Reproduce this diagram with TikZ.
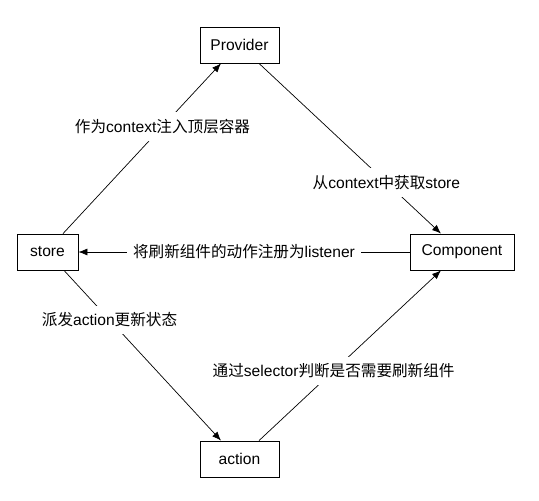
\documentclass[tikz,border=0pt]{standalone}
\usepackage{fontspec}
\setmainfont{Liberation Sans}
\newfontfamily\cjk{Noto Sans CJK SC}
\usetikzlibrary{arrows.meta}
\begin{document}
\begin{tikzpicture}[x=1pt,y=-1pt,
  every node/.style={font=\fontsize{15.6}{18}\selectfont},
  box/.style={draw,line width=0.8pt,minimum height=36pt,inner sep=0pt},
  conn/.style={line width=0.7pt},
  arr/.style={conn,-{Latex[length=9pt,width=7pt]}},
  lab/.style={fill=white,inner xsep=6pt,inner ysep=7pt}]
\useasboundingbox (0,0) rectangle (539,501);
\node[box,minimum width=79pt] (prov) at (239.5,45) {Provider};
\node[box,minimum width=61pt] (store) at (47.5,252) {store};
\node[box,minimum width=104pt] (comp) at (462,252) {Component};
\node[box,minimum width=79pt] (act) at (239.5,459) {action};
\draw[arr] ([xshift=15.5pt]store.north) -- ([xshift=-18.5pt]prov.south)
  node[lab,pos=0.63] {{\cjk 作为}context{\cjk 注入顶层容器}};
\draw[arr] ([xshift=19.5pt]prov.south) -- ([xshift=-21pt]comp.north)
  node[lab,pos=0.7] {{\cjk 从}context{\cjk 中获取}store};
\draw[arr] (comp.west) -- (store.east)
  node[lab,pos=0.5] {{\cjk 将刷新组件的动作注册为}listener};
\draw[arr] ([xshift=16.5pt]store.south) -- ([xshift=-18.5pt]act.north)
  node[lab,pos=0.29] {{\cjk 派发}action{\cjk 更新状态}};
\draw[arr] ([xshift=19.5pt]act.north) -- ([xshift=-21pt]comp.south)
  node[lab,pos=0.41] {{\cjk 通过}selector{\cjk 判断是否需要刷新组件}};
\end{tikzpicture}
\end{document}
